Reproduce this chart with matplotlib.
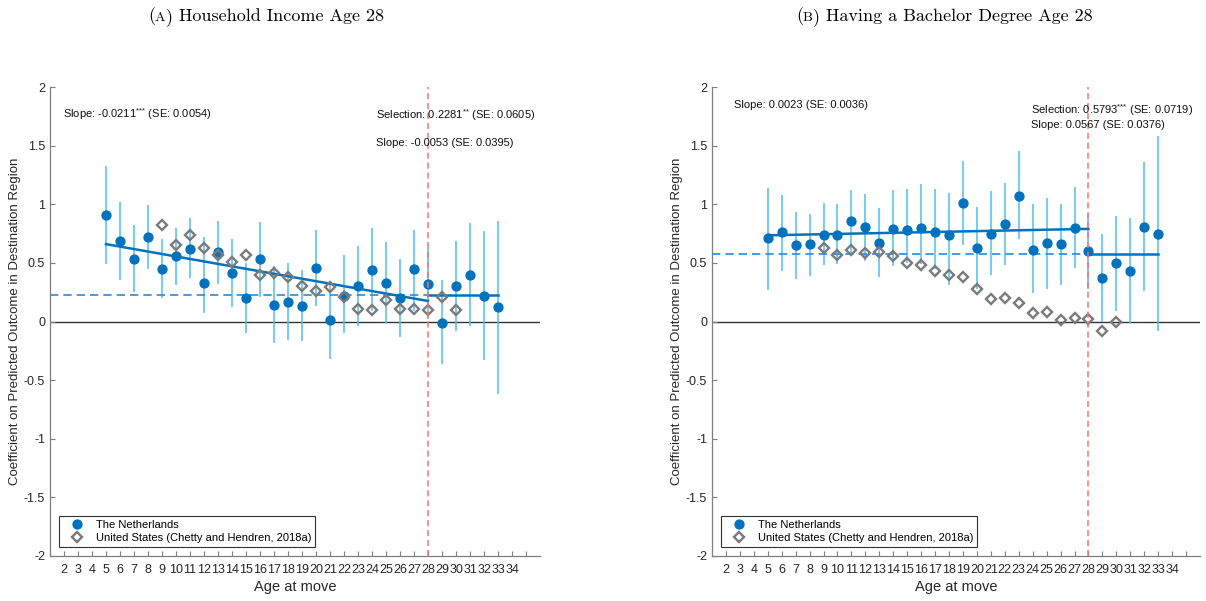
import matplotlib
matplotlib.use('Agg')
import matplotlib.pyplot as plt
from matplotlib.lines import Line2D
import numpy as np

plt.rcParams['font.family'] = ['Liberation Sans', 'DejaVu Sans']
plt.rcParams['axes.unicode_minus'] = False
plt.rcParams['mathtext.default'] = 'regular'

# ---------------- data ----------------
nl_ages = list(range(5, 34))
us_ages = list(range(9, 31))

# Panel A: household income age 28
nl_inc = [0.91, 0.69, 0.53, 0.72, 0.45, 0.56, 0.62, 0.33, 0.59, 0.41, 0.20, 0.53, 0.14, 0.17,
          0.13, 0.46, 0.01, 0.22, 0.30, 0.44, 0.33, 0.20, 0.45, 0.32, -0.01, 0.30, 0.40, 0.22, 0.12]
nl_inc_hi = [1.33, 1.02, 0.82, 0.99, 0.70, 0.80, 0.88, 0.72, 0.86, 0.70, 0.50, 0.85, 0.47, 0.50,
             0.44, 0.78, 0.34, 0.57, 0.64, 0.80, 0.68, 0.53, 0.78, 0.63, 0.35, 0.69, 0.84, 0.77, 0.86]
nl_inc_lo = [0.49, 0.35, 0.25, 0.45, 0.20, 0.31, 0.37, 0.07, 0.32, 0.12, -0.10, 0.21, -0.18, -0.16,
             -0.17, 0.13, -0.32, -0.10, -0.04, 0.09, -0.01, -0.13, 0.09, 0.02, -0.36, -0.08, -0.04, -0.33, -0.62]
us_inc = [0.82, 0.65, 0.74, 0.63, 0.57, 0.51, 0.57, 0.40, 0.41, 0.38, 0.30, 0.26, 0.29, 0.21,
          0.11, 0.10, 0.18, 0.11, 0.11, 0.10, 0.21, 0.10]
inc_fit_pre_x = [5, 28]
inc_fit_pre_y = [0.66, 0.175]
inc_fit_post_x = [28, 33]
inc_fit_post_y = [0.2281, 0.2281]
inc_selection = 0.2281

# Panel B: bachelor degree age 28
nl_ba = [0.71, 0.76, 0.65, 0.66, 0.74, 0.74, 0.86, 0.81, 0.67, 0.79, 0.78, 0.80, 0.76, 0.74,
         1.01, 0.63, 0.75, 0.83, 1.07, 0.61, 0.67, 0.66, 0.80, 0.60, 0.37, 0.50, 0.43, 0.81, 0.75]
nl_ba_hi = [1.14, 1.08, 0.93, 0.92, 1.01, 1.00, 1.12, 1.09, 0.97, 1.12, 1.13, 1.17, 1.13, 1.10,
            1.37, 0.98, 1.11, 1.18, 1.45, 1.00, 1.05, 1.00, 1.15, 0.92, 0.75, 0.90, 0.88, 1.36, 1.58]
nl_ba_lo = [0.27, 0.43, 0.36, 0.39, 0.48, 0.49, 0.58, 0.52, 0.38, 0.47, 0.50, 0.49, 0.45, 0.31,
            0.65, 0.28, 0.40, 0.48, 0.70, 0.24, 0.28, 0.31, 0.46, 0.28, 0.00, 0.09, -0.01, 0.26, -0.08]
us_ba = [0.63, 0.57, 0.61, 0.58, 0.59, 0.56, 0.50, 0.48, 0.43, 0.40, 0.38, 0.28, 0.19, 0.20,
         0.16, 0.07, 0.08, 0.01, 0.03, 0.02, -0.08, 0.00]
ba_fit_pre_x = [5, 28]
ba_fit_pre_y = [0.735, 0.79]
ba_fit_post_x = [28, 33]
ba_fit_post_y = [0.5793, 0.5793]
ba_selection = 0.5793

x_ticks = list(range(2, 36))
x_ticklabels = [str(v) for v in range(2, 35)] + ['']
y_ticks = [-2, -1.5, -1, -0.5, 0, 0.5, 1, 1.5, 2]
y_ticklabels = ['-2', '-1.5', '-1', '-0.5', '0', '0.5', '1', '1.5', '2']
cutoff_age = 28

STARS3 = r'$^{{*}{*}{*}}$'
STARS2 = r'$^{{*}{*}}$'

panels = [
    dict(nl=nl_inc, hi=nl_inc_hi, lo=nl_inc_lo, us=us_inc,
         pre=(inc_fit_pre_x, inc_fit_pre_y), post=(inc_fit_post_x, inc_fit_post_y),
         sel=inc_selection,
         notes=[(1.93, 1.77, 'Slope: -0.0211' + STARS3 + ' (SE: 0.0054)'),
                (24.3, 1.76, 'Selection: 0.2281' + STARS2 + ' (SE: 0.0605)'),
                (24.3, 1.52, 'Slope: -0.0053 (SE: 0.0395)')]),
    dict(nl=nl_ba, hi=nl_ba_hi, lo=nl_ba_lo, us=us_ba,
         pre=(ba_fit_pre_x, ba_fit_pre_y), post=(ba_fit_post_x, ba_fit_post_y),
         sel=ba_selection,
         notes=[(2.6, 1.85, 'Slope: 0.0023 (SE: 0.0036)'),
                (23.9, 1.80, 'Selection: 0.5793' + STARS3 + ' (SE: 0.0719)'),
                (23.9, 1.68, 'Slope: 0.0567 (SE: 0.0376)')]),
]

W, H = 1206, 601
fig = plt.figure(figsize=(W / 100, H / 100), dpi=100)

BLUE = '#0072BD'
CI = '#4DBEEE'
GREY = '#7a7a7a'
RED = '#FF7070'
AXC = '#7f7f7f'
TXT = '#262626'

axes_px = [(50, 540), (712, 1200)]
top_px, bot_px = 87, 556
ylabel_x = [15, 677]

for (l, r), p, ylx in zip(axes_px, panels, ylabel_x):
    ax = fig.add_axes([l / W, 1 - bot_px / H, (r - l) / W, (bot_px - top_px) / H])
    ax.set_xlim(1, 36)
    ax.set_ylim(-2, 2)
    for s in ['top', 'right']:
        ax.spines[s].set_visible(False)
    for s in ['left', 'bottom']:
        ax.spines[s].set_color(AXC)
        ax.spines[s].set_linewidth(0.9)
    ax.axhline(0, color='#333333', lw=1.0, zorder=1)
    ax.vlines(nl_ages, p['lo'], p['hi'], color=CI, lw=1.1, zorder=2)
    ax.plot([1, cutoff_age], [p['sel'], p['sel']], ls=(0, (5, 3)), color='#2e8ad8', lw=1.2, zorder=3)
    ax.plot(*p['pre'], color=BLUE, lw=1.8, zorder=4)
    ax.plot(*p['post'], color=BLUE, lw=1.8, zorder=4)
    ax.plot(nl_ages, p['nl'], 'o', color=BLUE, ms=6.4, zorder=5, ls='none')
    ax.plot(us_ages, p['us'], 'D', mfc='none', mec=GREY, mew=1.7, ms=5.4, zorder=6, ls='none')
    ax.axvline(cutoff_age, color=RED, ls=(0, (4, 2.5)), lw=1.1, zorder=7)

    ax.set_xticks(x_ticks)
    ax.set_xticklabels(x_ticklabels)
    ax.set_yticks(y_ticks)
    ax.set_yticklabels(y_ticklabels)
    ax.tick_params(direction='in', length=3.5, width=0.8, color=AXC, labelcolor=TXT, labelsize=9)
    ax.tick_params(axis='x', pad=6)
    ax.set_xlabel('Age at move', fontsize=10.5, color=TXT, labelpad=3)
    fig.text(ylx / W, 1 - ((top_px + bot_px) / 2) / H,
             'Coefficient on Predicted Outcome in Destination Region',
             rotation=90, ha='center', va='center', fontsize=9.5, color=TXT)
    for (xx, yy, s) in p['notes']:
        ax.text(xx, yy, s, fontsize=8, color='#111111', va='center', ha='left', zorder=8)

    handles = [Line2D([], [], marker='o', color=BLUE, ls='none', ms=6.4),
               Line2D([], [], marker='D', mfc='none', mec=GREY, mew=1.7, ms=5.4, ls='none')]
    leg = ax.legend(handles, ['The Netherlands', 'United States (Chetty and Hendren, 2018a)'],
                    loc='lower left', bbox_to_anchor=(0.018, 0.019), fontsize=8,
                    fancybox=False, framealpha=1, edgecolor='#333333', borderpad=0.35,
                    handlelength=2.6, handletextpad=0.4, labelspacing=0.3, borderaxespad=0)
    leg.get_frame().set_linewidth(0.8)

# Titles with small-caps panel letters
renderer = fig.canvas.get_renderer()


def title(xpix, ybase_pix, letter, rest, size=13):
    x = xpix
    for txt, sz in [('(', size), (letter, size * 0.78), (')', size), (' ' + rest, size)]:
        t = fig.text(x / W, 1 - ybase_pix / H, txt, fontsize=sz, family='cmr10', va='baseline',
                     ha='left', color='black')
        bb = t.get_window_extent(renderer)
        x = bb.x1


title(148, 21, 'A', 'Household Income Age 28')
title(796, 21, 'B', 'Having a Bachelor Degree Age 28')

fig.savefig('out.png', dpi=100)
